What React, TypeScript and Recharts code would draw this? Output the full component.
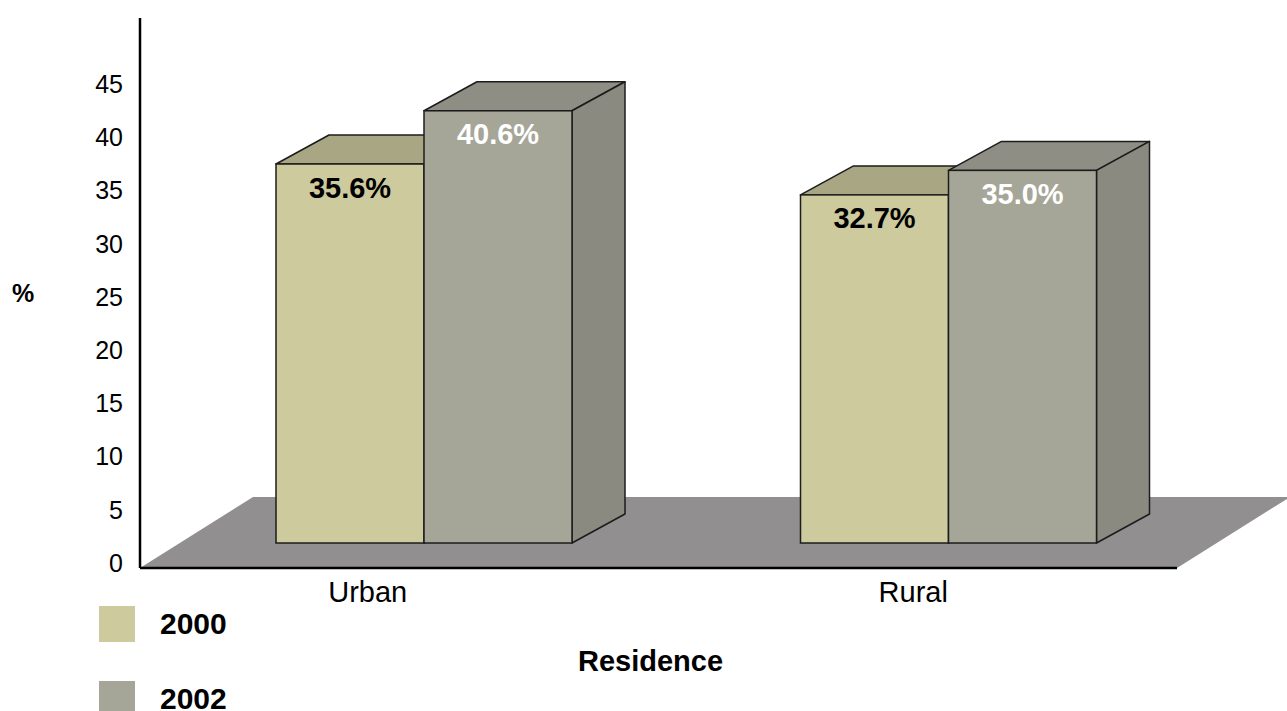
import React from 'react';
import { BarChart, Bar, XAxis, YAxis, Legend, LabelList, Label, Customized } from 'recharts';

// Share of respondents by residence, survey years 2000 and 2002
const residences = ['Urban', 'Rural'];
const values2000 = [35.6, 32.7];
const values2002 = [40.6, 35.0];
const seriesNames = ['2000', '2002'];
const yTicks = [0, 5, 10, 15, 20, 25, 30, 35, 40, 45];

const data = residences.map((residence, i) => ({
  residence,
  y2000: values2000[i],
  y2002: values2002[i],
}));

const WIDTH = 1287;
const HEIGHT = 711;
const MARGIN = { top: 18, right: 110, left: 0, bottom: 0 };
const Y_AXIS_WIDTH = 140;
const X_AXIS_HEIGHT = 143;

// plot-area edges derived from the layout above
const PLOT_LEFT = MARGIN.left + Y_AXIS_WIDTH;
const PLOT_RIGHT = WIDTH - MARGIN.right;
const PLOT_BOTTOM = HEIGHT - MARGIN.bottom - X_AXIS_HEIGHT;

// 3D extrusion of the boxes and the floor
const DEPTH_X = 53;
const DEPTH_Y = 29;
const FLOOR_DX = 113;
const FLOOR_DY = 71;
// value labels sit against the front edge of the floor, below the box bases
const TICK_SHIFT = 20;

const FONT = '"Liberation Sans", Arial, Helvetica, sans-serif';
const EDGE = '#1c1c1c';

const palette = {
  y2000: { front: '#CDCA9E', top: '#A9A683', side: '#A19E7D' },
  y2002: { front: '#A6A698', top: '#8F8E84', side: '#8B8A80' },
};

const fmt = (v: number) => `${Number(v).toFixed(1)}%`;

function Box(props: any) {
  const { x, y, width, height, colors } = props;
  if (x == null || y == null) return null;
  const x2 = x + width;
  const y2 = y + height;
  const top = `${x},${y} ${x + DEPTH_X},${y - DEPTH_Y} ${x2 + DEPTH_X},${y - DEPTH_Y} ${x2},${y}`;
  const side = `${x2},${y} ${x2 + DEPTH_X},${y - DEPTH_Y} ${x2 + DEPTH_X},${y2 - DEPTH_Y} ${x2},${y2}`;
  return (
    <g>
      <polygon points={top} fill={colors.top} stroke={EDGE} strokeWidth={1.5} strokeLinejoin="round" />
      <polygon points={side} fill={colors.side} stroke={EDGE} strokeWidth={1.5} strokeLinejoin="round" />
      <rect x={x} y={y} width={width} height={height} fill={colors.front} stroke={EDGE} strokeWidth={1.5} />
    </g>
  );
}

function Floor() {
  const pts = [
    `${PLOT_LEFT},${PLOT_BOTTOM}`,
    `${PLOT_LEFT + FLOOR_DX},${PLOT_BOTTOM - FLOOR_DY}`,
    `${PLOT_RIGHT + FLOOR_DX},${PLOT_BOTTOM - FLOOR_DY}`,
    `${PLOT_RIGHT},${PLOT_BOTTOM}`,
  ].join(' ');
  return <polygon points={pts} fill="#918F8F" />;
}

function YTick(props: any) {
  const { x, y, payload } = props;
  return (
    <text x={x} y={y + TICK_SHIFT} dy="0.355em" textAnchor="end" fill="#000" fontSize={25} fontFamily={FONT}>
      {payload.value}
    </text>
  );
}

function LegendBox(props: any) {
  const { payload } = props;
  return (
    <div style={{ fontFamily: FONT }}>
      {(payload || []).map((entry: any) => (
        <div key={entry.value} style={{ display: 'flex', alignItems: 'center', height: 36, marginBottom: 39 }}>
          <div style={{ width: 36, height: 36, background: entry.color, marginRight: 25 }} />
          <span style={{ fontSize: 30, fontWeight: 'bold', color: '#000', lineHeight: '36px' }}>{entry.value}</span>
        </div>
      ))}
    </div>
  );
}

export default function App() {
  return (
    <div style={{ position: 'absolute', left: 0, top: 0, width: WIDTH, height: HEIGHT, background: '#fff' }}>
      <BarChart width={WIDTH} height={HEIGHT} data={data} margin={MARGIN} barGap={0}>
        <Customized component={<Floor />} />
        <XAxis xAxisId="bars" dataKey="residence" hide height={0} padding={{ left: 22, right: -34 }} />
        <XAxis
          xAxisId="labels"
          dataKey="residence"
          height={X_AXIS_HEIGHT}
          padding={{ left: -45, right: -9 }}
          axisLine={{ stroke: '#000', strokeWidth: 2.5 }}
          tickLine={false}
          tickSize={0}
          tickMargin={13}
          tick={{ fill: '#000', fontSize: 29, fontFamily: FONT }}
        >
          <Label value="Residence" position="insideTop" offset={82} dx={-8} fill="#000" fontSize={29} fontWeight="bold" fontFamily={FONT} />
        </XAxis>
        <YAxis
          type="number"
          domain={[0, 48]}
          ticks={yTicks}
          width={Y_AXIS_WIDTH}
          padding={{ top: 14, bottom: 25 }}
          axisLine={{ stroke: '#000', strokeWidth: 2.5 }}
          tickLine={false}
          tickSize={0}
          tickMargin={17}
          tick={<YTick />}
        >
          <Label value="%" position="insideLeft" offset={12} fill="#000" fontSize={25} fontWeight="bold" fontFamily={FONT} />
        </YAxis>
        <Legend
          layout="horizontal"
          verticalAlign="bottom"
          content={<LegendBox />}
          wrapperStyle={{ position: 'absolute', left: 99, top: 606, bottom: 'auto', width: 300, height: 0 }}
        />
        <Bar
          xAxisId="bars"
          dataKey="y2000"
          name={seriesNames[0]}
          fill={palette.y2000.front}
          barSize={148}
          isAnimationActive={false}
          shape={(p: any) => <Box {...p} colors={palette.y2000} />}
        >
          <LabelList dataKey="y2000" position="insideTop" offset={13} formatter={fmt} fill="#000" fontSize={29} fontWeight="bold" fontFamily={FONT} />
        </Bar>
        <Bar
          xAxisId="bars"
          dataKey="y2002"
          name={seriesNames[1]}
          fill={palette.y2002.front}
          barSize={148}
          isAnimationActive={false}
          shape={(p: any) => <Box {...p} colors={palette.y2002} />}
        >
          <LabelList dataKey="y2002" position="insideTop" offset={13} formatter={fmt} fill="#fff" fontSize={29} fontWeight="bold" fontFamily={FONT} />
        </Bar>
      </BarChart>
    </div>
  );
}
